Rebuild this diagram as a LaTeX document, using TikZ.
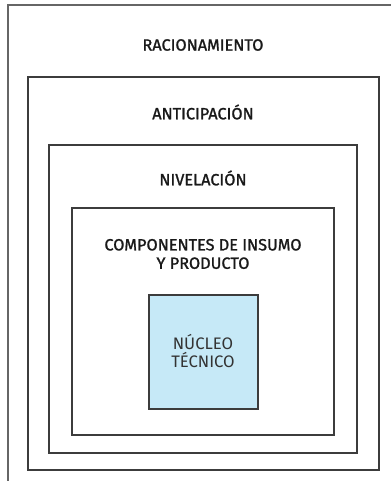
\documentclass[tikz,border=0pt]{standalone}
\usepackage{fontspec}
\setmainfont{Fira Sans}
\newfontfamily\medfont{Fira Sans}[FakeBold=1.3]
\usepackage{tikz}
\usepackage{xcolor}

\definecolor{boxline}{RGB}{60,60,60}
\definecolor{nucleofill}{RGB}{198,233,247}

\tikzset{
  caja/.style={draw=boxline, line width=0.8pt},
  rotulo/.style={font=\medfont\fontsize{12.2}{13.8}\selectfont, align=center, text=black!90},
  rotulonucleo/.style={font=\fontsize{12.5}{13}\selectfont, align=center, text=black!80}
}

\begin{document}
\begin{tikzpicture}[x=0.75pt,y=0.75pt,yscale=-1,xscale=1]
\useasboundingbox (0,0) rectangle (391,481);

%Shape: outer frame (cut at right and bottom)
\draw  [caja,draw=black!60] (391,5) -- (8,5) -- (8,481) ;
%Shape: Rectangle
\draw  [caja] (28,77) -- (379,77) -- (379,470) -- (28,470) -- cycle ;
%Shape: Rectangle
\draw  [caja] (49,145) -- (357,145) -- (357,453) -- (49,453) -- cycle ;
%Shape: Rectangle
\draw  [caja] (72,208) -- (334,208) -- (334,435) -- (72,435) -- cycle ;
%Shape: Rectangle
\draw  [caja,fill=nucleofill] (149,295) -- (258,295) -- (258,409) -- (149,409) -- cycle ;

% Text Node
\node [rotulo] (racionamiento) at (203,45) {RACIONAMIENTO};
% Text Node
\node [rotulo] (anticipacion) at (203,112) {ANTICIPACIÓN};
% Text Node
\node [rotulo] (nivelacion) at (203,178) {NIVELACIÓN};
% Text Node
\node [rotulo] (componentes) at (203,254) {COMPONENTES DE INSUMO\\Y PRODUCTO};
% Text Node
\node [rotulonucleo] (nucleo) at (203,351) {NÚCLEO\\TÉCNICO};

\end{tikzpicture}
\end{document}
